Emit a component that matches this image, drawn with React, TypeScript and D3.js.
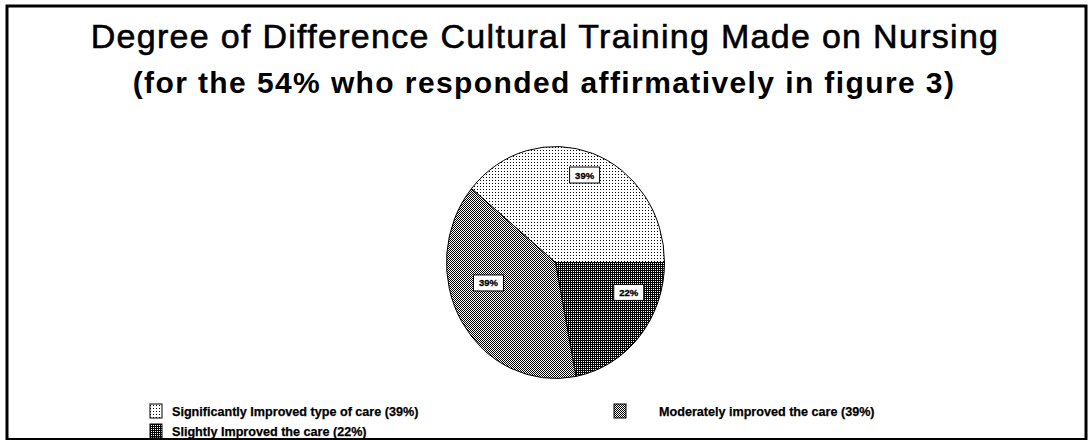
import React from "react";
import * as d3 from "d3";

const categories = [
  "Significantly Improved type of care (39%)",
  "Slightly Improved the care (22%)",
  "Moderately improved the care (39%)",
];
const values = [39, 22, 39];
const sliceLabels = ["39%", "22%", "39%"];
const patternIds = ["patLight", "patDark", "patMedium"];
const legendOrder = [0, 2, 1];

// layout constants (label placement: angle in degrees, radius fraction)
const labelPlace: [number, number][] = [
  [19.5, 0.8],
  [111, 0.72],
  [254, 0.64],
];

const W = 1089;
const H = 440;

function ellipseSlice(cx: number, cy: number, rx: number, ry: number, a0: number, a1: number) {
  const p = (a: number) => [cx + rx * Math.sin(a), cy - ry * Math.cos(a)];
  const [x0, y0] = p(a0);
  const [x1, y1] = p(a1);
  const large = a1 - a0 > Math.PI ? 1 : 0;
  return `M${cx},${cy}L${x0},${y0}A${rx},${ry} 0 ${large} 1 ${x1},${y1}Z`;
}

export default function App() {
  const cx = 555.5;
  const cy = 262.5;
  const rx = 109;
  const ry = 116;
  const startA = (-50.4 * Math.PI) / 180;
  const pie = d3
    .pie<number>()
    .sort(null)
    .startAngle(startA)
    .endAngle(startA + 2 * Math.PI)
    .value((d) => d);
  const arcs = pie(values);

  return (
    <svg
      width={W}
      height={H}
      style={{ position: "absolute", left: 0, top: 0, background: "#fff" }}
      fontFamily="'Liberation Sans', Arial, sans-serif"
    >
      <defs>
        <pattern id="patLight" width={3} height={3} patternUnits="userSpaceOnUse">
          <rect width={3} height={3} fill="#fff" />
          <rect x={0} y={0} width={1} height={1} fill="#000" />
        </pattern>
        <pattern id="patMedium" width={2} height={2} patternUnits="userSpaceOnUse">
          <rect width={2} height={2} fill="#fff" />
          <rect x={0} y={0} width={1} height={1} fill="#000" />
          <rect x={1} y={1} width={1} height={1} fill="#000" />
        </pattern>
        <pattern id="patDark" width={2} height={2} patternUnits="userSpaceOnUse">
          <rect width={2} height={2} fill="#000" />
          <rect x={1} y={1} width={1} height={1} fill="#fff" />
        </pattern>
      </defs>
      <rect x={0} y={0} width={W} height={H} fill="#fff" />
      <path d={`M7,440V6H1086V440`} fill="none" stroke="#000" strokeWidth={3} />
      <line x1={7} x2={1086} y1={439} y2={439} stroke="#000" strokeWidth={2} />

      <text x={545} y={48} textAnchor="middle" fontSize={34} letterSpacing={1.3} stroke="#000" strokeWidth={0.6} fill="#000">
        Degree of Difference Cultural Training Made on Nursing
      </text>
      <text x={544} y={93} textAnchor="middle" fontSize={30} letterSpacing={1.4} fontWeight="bold" fill="#000">
        (for the 54% who responded affirmatively in figure 3)
      </text>

      <g>
        {arcs.map((a, i) => (
          <path
            key={i}
            d={ellipseSlice(cx, cy, rx, ry, a.startAngle, a.endAngle)}
            fill={`url(#${patternIds[i]})`}
            stroke="#000"
            strokeWidth={1}
          />
        ))}
        {arcs.map((a, i) => {
          const ang = (labelPlace[i][0] * Math.PI) / 180;
          const lx = cx + rx * labelPlace[i][1] * Math.sin(ang);
          const ly = cy - ry * labelPlace[i][1] * Math.cos(ang);
          return (
            <g key={"l" + i} transform={`translate(${lx},${ly})`}>
              <rect x={-15} y={-8} width={30} height={16} fill="#fff" stroke="#000" strokeWidth={1} />
              <text x={0} y={3.5} textAnchor="middle" fontSize={9.5} fontWeight="bold" stroke="#000" strokeWidth={0.3} fill="#000">
                {sliceLabels[i]}
              </text>
            </g>
          );
        })}
      </g>

      {legendOrder.map((idx, k) => {
        const col = k % 2;
        const row = Math.floor(k / 2);
        const sx = col === 0 ? 150 : 614;
        const tx = col === 0 ? 172 : 659;
        const y = 411 + row * 20;
        return (
          <g key={"lg" + k}>
            <rect x={sx} y={y - 7} width={12} height={14} fill={`url(#${patternIds[idx]})`} stroke="#000" strokeWidth={1} />
            <text x={tx} y={y + 4.5} fontSize={12.6} fontWeight="bold" stroke="#000" strokeWidth={0.25} fill="#000">
              {categories[idx]}
            </text>
          </g>
        );
      })}
    </svg>
  );
}
